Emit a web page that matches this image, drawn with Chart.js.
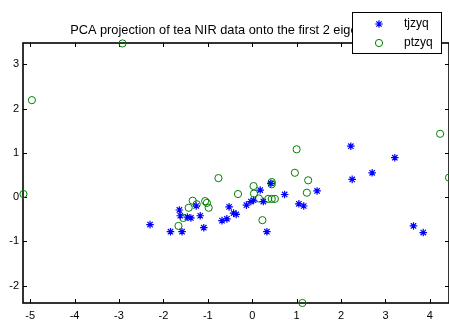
<!DOCTYPE html>
<html>
<head>
<meta charset="utf-8">
<script src="https://cdn.jsdelivr.net/npm/chart.js@4.4.1/dist/chart.umd.min.js"></script>
<style>
  html, body { margin: 0; padding: 0; background: #fff; }
</style>
</head>
<body>
<canvas id="pca" width="449" height="320"></canvas>
<script>
// data
const titleText = 'PCA projection of tea NIR data onto the first 2 eigenvectors';
const seriesNames = ['tjzyq', 'ptzyq'];

const tjzyqX = [-2.30, -1.84, -1.58, -1.64, -1.62, -1.46, -1.38, -1.26, -1.17, -1.09,
                -0.68, -0.57, -0.52, -0.42, -0.36, -0.13, -0.03, 0.03, 0.18, 0.25,
                0.42, 0.33, 0.73, 1.05, 1.16, 1.46, 2.25, 2.22, 2.70, 3.21, 3.63, 3.85];
const tjzyqY = [-0.62, -0.78, -0.78, -0.29, -0.42, -0.45, -0.47, -0.20, -0.42, -0.69,
                -0.53, -0.49, -0.22, -0.36, -0.39, -0.18, -0.10, -0.07, 0.16, -0.10,
                0.31, -0.78, 0.06, -0.15, -0.20, 0.14, 0.40, 1.15, 0.55, 0.89, -0.65, -0.80];

const ptzyqX = [-5.15, -4.96, -2.92, -1.66, -1.55, -1.43, -1.34, -1.25, -1.06, -1.02,
                -0.98, -0.76, -0.32, 0.03, 0.04, 0.15, 0.23, 0.36, 0.44, 0.51,
                0.44, 0.44, 0.96, 1.00, 1.23, 1.26, 1.13, 4.23, 4.43];
const ptzyqY = [0.07, 2.19, 3.47, -0.65, -0.47, -0.24, -0.08, -0.16, -0.09, -0.13,
                -0.24, 0.43, 0.07, 0.25, 0.08, -0.03, -0.52, -0.04, -0.04, -0.04,
                0.34, 0.29, 0.55, 1.08, 0.10, 0.38, -2.39, 1.43, 0.44];

const xTicks = [-5, -4, -3, -2, -1, 0, 1, 2, 3, 4];
const yTicks = [-2, -1, 0, 1, 2, 3];
const xRange = [-5.16, 4.43];
const yRange = [-2.39, 3.48];

const toPoints = (xs, ys) => xs.map((x, i) => ({ x: x, y: ys[i] }));

Chart.defaults.font.family = '"Liberation Sans", Arial, sans-serif';
Chart.defaults.font.size = 11;
Chart.defaults.color = '#000';

// MATLAB style box, inward ticks, title and legend
const matlabAxes = {
    id: 'matlabAxes',
    beforeDatasetsDraw(chart) {
        const { ctx, chartArea: a, scales } = chart;
        const tl = 4;
        ctx.save();
        ctx.strokeStyle = '#000';
        ctx.lineWidth = 1;
        ctx.beginPath();
        scales.x.ticks.forEach(t => {
            const px = Math.round(scales.x.getPixelForValue(t.value)) + 0.5;
            ctx.moveTo(px, a.bottom); ctx.lineTo(px, a.bottom - tl);
            ctx.moveTo(px, a.top); ctx.lineTo(px, a.top + tl);
        });
        scales.y.ticks.forEach(t => {
            const py = Math.round(scales.y.getPixelForValue(t.value)) + 0.5;
            ctx.moveTo(a.left, py); ctx.lineTo(a.left + tl, py);
            ctx.moveTo(a.right, py); ctx.lineTo(a.right - tl, py);
        });
        ctx.stroke();
        ctx.lineWidth = 1.6;
        ctx.strokeRect(a.left, a.top, a.right - a.left, a.bottom - a.top);
        ctx.restore();
    },
    afterDraw(chart) {
        const { ctx, chartArea: a } = chart;
        ctx.save();
        // title
        ctx.fillStyle = '#000';
        ctx.font = '12.8px "Liberation Sans", Arial, sans-serif';
        ctx.textAlign = 'center';
        ctx.textBaseline = 'alphabetic';
        ctx.fillText(titleText, (a.left + a.right) / 2 + 2, 34);

        // legend box
        const bx = 352.5, by = 12.5, bw = 89, bh = 41;
        ctx.fillStyle = '#fff';
        ctx.fillRect(bx, by, bw, bh);
        ctx.strokeStyle = '#000';
        ctx.lineWidth = 1;
        ctx.strokeRect(bx, by, bw, bh);

        ctx.font = '12px "Liberation Sans", Arial, sans-serif';
        chart.data.datasets.forEach((ds, i) => {
            const y = 24 + i * 19;
            ctx.strokeStyle = ds.borderColor;
            ctx.fillStyle = 'rgba(0,0,0,0)';
            ctx.lineWidth = ds.borderWidth;
            Chart.helpers.drawPoint(ctx, {
                pointStyle: ds.pointStyle, radius: ds.pointRadius,
                rotation: 0, borderWidth: ds.borderWidth
            }, 379, y);
            ctx.fillStyle = '#000';
            ctx.textAlign = 'left';
            ctx.textBaseline = 'middle';
            ctx.fillText(seriesNames[i], 404, y);
        });
        ctx.restore();
    }
};

new Chart(document.getElementById('pca'), {
    type: 'scatter',
    data: {
        datasets: [
            {
                label: seriesNames[0],
                data: toPoints(tjzyqX, tjzyqY),
                pointStyle: 'star',
                pointRadius: 3.8,
                borderColor: '#0000ff',
                backgroundColor: '#0000ff',
                borderWidth: 1.2,
                clip: false
            },
            {
                label: seriesNames[1],
                data: toPoints(ptzyqX, ptzyqY),
                pointStyle: 'circle',
                pointRadius: 3.6,
                borderColor: '#008000',
                backgroundColor: 'rgba(0,0,0,0)',
                borderWidth: 1,
                clip: false
            }
        ]
    },
    options: {
        responsive: false,
        animation: false,
        layout: { autoPadding: false, padding: { top: 43, right: 0, left: 0, bottom: 0 } },
        plugins: {
            legend: { display: false },
            title: { display: false },
            tooltip: { enabled: false }
        },
        scales: {
            x: {
                type: 'linear',
                min: xRange[0],
                max: xRange[1],
                grid: { display: false, drawTicks: false },
                border: { display: false },
                ticks: { padding: 6, color: '#000', maxRotation: 0 },
                afterBuildTicks: s => { s.ticks = xTicks.map(v => ({ value: v })); },
                afterFit: s => { s.height = 17; s.paddingLeft = 0; s.paddingRight = 0; }
            },
            y: {
                type: 'linear',
                min: yRange[0],
                max: yRange[1],
                grid: { display: false, drawTicks: false },
                border: { display: false },
                ticks: { padding: 4, color: '#000' },
                afterBuildTicks: s => { s.ticks = yTicks.map(v => ({ value: v })); },
                afterFit: s => { s.width = 23; s.paddingTop = 0; s.paddingBottom = 0; }
            }
        }
    },
    plugins: [matlabAxes]
});
</script>
</body>
</html>
